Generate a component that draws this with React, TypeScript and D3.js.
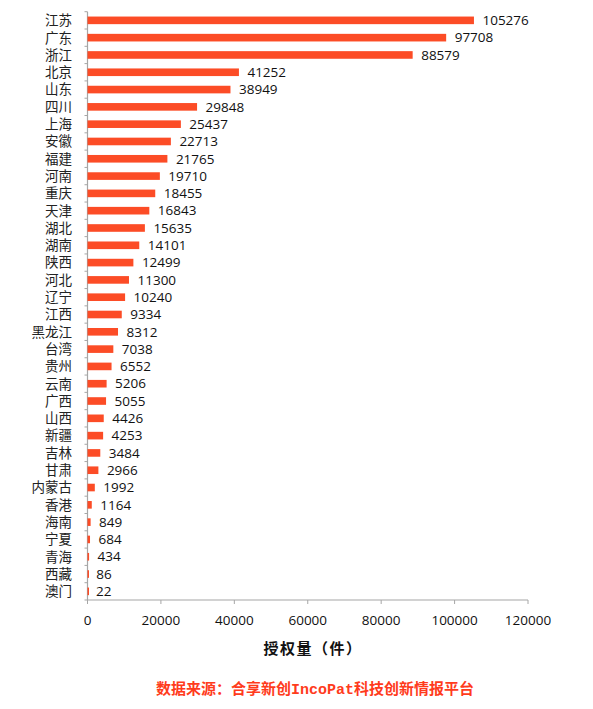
import React from "react";
import * as d3 from "d3";

const categories = ["江苏","广东","浙江","北京","山东","四川","上海","安徽","福建","河南","重庆","天津","湖北","湖南","陕西","河北","辽宁","江西","黑龙江","台湾","贵州","云南","广西","山西","新疆","吉林","甘肃","内蒙古","香港","海南","宁夏","青海","西藏","澳门"];
const values = [105276,97708,88579,41252,38949,29848,25437,22713,21765,19710,18455,16843,15635,14101,12499,11300,10240,9334,8312,7038,6552,5206,5055,4426,4253,3484,2966,1992,1164,849,684,434,86,22];
const xTicks = [0,20000,40000,60000,80000,100000,120000];
const axisTitle = "授权量（件）";
const sourcePrefix = "数据来源：合享新创";
const sourceLatin = "IncoPat";
const sourceSuffix = "科技创新情报平台";

export default function App() {
  const W = 593, H = 709;
  const left = 87.5, right = 528, top = 11.7, bottom = 600;
  const x = d3.scaleLinear().domain([0, 120000]).range([left, right]);
  const y = d3.scaleBand().domain(categories).range([top, bottom]).paddingInner(0.56).paddingOuter(0.28);
  const band = (bottom - top) / categories.length;
  const axisColor = "#a6a6a6";
  const barColor = "#fc4c26";
  return (
    <svg width={W} height={H} style={{ position: "absolute", left: 0, top: 0 }}>
      <rect width={W} height={H} fill="#fff" />
      <g>
        <line x1={x(0)} x2={x(0)} y1={top} y2={bottom} stroke={axisColor} strokeWidth={1.2} />
        {d3.range(categories.length + 1).map((i) => (
          <line key={"yt" + i} x1={x(0) - 3} x2={x(0)} y1={top + i * band} y2={top + i * band} stroke={axisColor} strokeWidth={1} />
        ))}
        <line x1={x(0)} x2={x(120000)} y1={bottom} y2={bottom} stroke={axisColor} strokeWidth={1.2} />
        {categories.map((c, i) => (
          <rect key={c} x={x(0)} y={y(c)!} width={Math.max(1.5, x(values[i]) - x(0))} height={y.bandwidth()} fill={barColor} />
        ))}
        {categories.map((c, i) => (
          <text key={"v" + c} x={x(values[i]) + 8.5} y={y(c)! + y.bandwidth() / 2} dy="0.35em" fontSize={13.5} fill="#111" fontFamily="'Open Sans', 'DejaVu Sans', sans-serif">{values[i]}</text>
        ))}
        {categories.map((c) => (
          <text key={"c" + c} x={72} y={y(c)! + y.bandwidth() / 2} dy="0.36em" textAnchor="end" fontSize={13.5} fill="#222" fontFamily="'Noto Sans CJK SC', sans-serif">{c}</text>
        ))}
        {xTicks.map((t) => (
          <g key={"xt" + t}>
            <line x1={x(t)} x2={x(t)} y1={bottom} y2={bottom + 4} stroke={axisColor} strokeWidth={1} />
            <text x={x(t)} y={bottom + 20} dy="0.35em" textAnchor="middle" fontSize={13.5} fill="#111" fontFamily="'Open Sans', 'DejaVu Sans', sans-serif">{t}</text>
          </g>
        ))}
        <text x={313} y={649} dy="0.35em" textAnchor="middle" fontSize={15} fontWeight="bold" fill="#111" letterSpacing={1.5} fontFamily="'Noto Sans CJK SC', sans-serif">{axisTitle}</text>
        <text x={315} y={689} dy="0.36em" textAnchor="middle" fontSize={15} fontWeight="bold" fill="#ff3b1c" fontFamily="'Noto Sans CJK SC', sans-serif">
          <tspan>{sourcePrefix}</tspan>
          <tspan fontFamily="'Liberation Mono', 'DejaVu Sans Mono', monospace">{sourceLatin}</tspan>
          <tspan>{sourceSuffix}</tspan>
        </text>
      </g>
    </svg>
  );
}
